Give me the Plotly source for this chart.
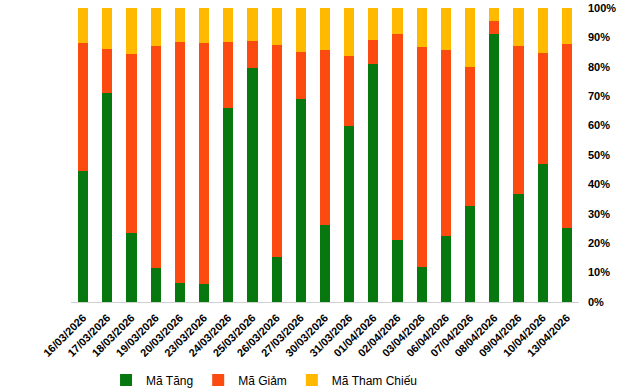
import plotly.graph_objects as go

dates = ["16/03/2026", "17/03/2026", "18/03/2026", "19/03/2026", "20/03/2026", "23/03/2026",
         "24/03/2026", "25/03/2026", "26/03/2026", "27/03/2026", "30/03/2026", "31/03/2026",
         "01/04/2026", "02/04/2026", "03/04/2026", "06/04/2026", "07/04/2026", "08/04/2026",
         "09/04/2026", "10/04/2026", "13/04/2026"]

# cumulative tops (percent)
tang = [44.6, 71.2, 23.6, 11.7, 6.5, 6.1, 66.1, 79.7, 15.4, 69.0, 26.2, 60.0,
        81.1, 21.2, 12.0, 22.6, 32.8, 91.3, 36.8, 47.0, 25.3]
tang_giam = [88.2, 86.1, 84.5, 87.2, 88.5, 88.2, 88.5, 88.9, 87.5, 85.1, 85.8, 83.8,
             89.2, 91.3, 86.8, 85.8, 80.0, 95.7, 87.2, 84.8, 87.9]

giam = [round(b - a, 1) for a, b in zip(tang, tang_giam)]
tham_chieu = [round(100 - b, 1) for b in tang_giam]

names = ["Mã Tăng", "Mã Giảm", "Mã Tham Chiếu"]
colors = ["#06780F", "#FC4B10", "#FFBA00"]

fig = go.Figure()
for name, vals, col in zip(names, [tang, giam, tham_chieu], colors):
    fig.add_trace(go.Bar(x=dates, y=vals, name=name, marker=dict(color=col, line=dict(width=0))))

fig.update_layout(
    barmode="stack",
    bargap=0.58,
    width=640, height=388,
    margin=dict(l=71, r=61, t=8, b=86, autoexpand=False),
    plot_bgcolor="white", paper_bgcolor="white",
    font=dict(family="Liberation Sans, Arial, sans-serif", size=11, color="#000000"),
    showlegend=True,
    legend=dict(orientation="h", x=0.38, xanchor="center", y=-0.265, yanchor="middle",
                font=dict(size=12), itemwidth=30, traceorder="normal"),
    xaxis=dict(tickangle=-45, showgrid=False, showline=True, linecolor="#D0D0D0",
               linewidth=1, ticks="", automargin=False, ticklabelstandoff=4,
               tickfont=dict(size=11, family="Liberation Sans, Arial", weight="bold")),
    yaxis=dict(side="right", range=[0, 100], dtick=10, ticksuffix="%", showgrid=False,
               zeroline=False, showline=False, ticks="", automargin=False,
               ticklabeloverflow="allow", ticklabelstandoff=8,
               tickfont=dict(size=11, family="Liberation Sans, Arial", weight="bold")),
)

fig.write_html("out.html", config={"displayModeBar": False},
               post_script="document.body.style.margin='0';")
